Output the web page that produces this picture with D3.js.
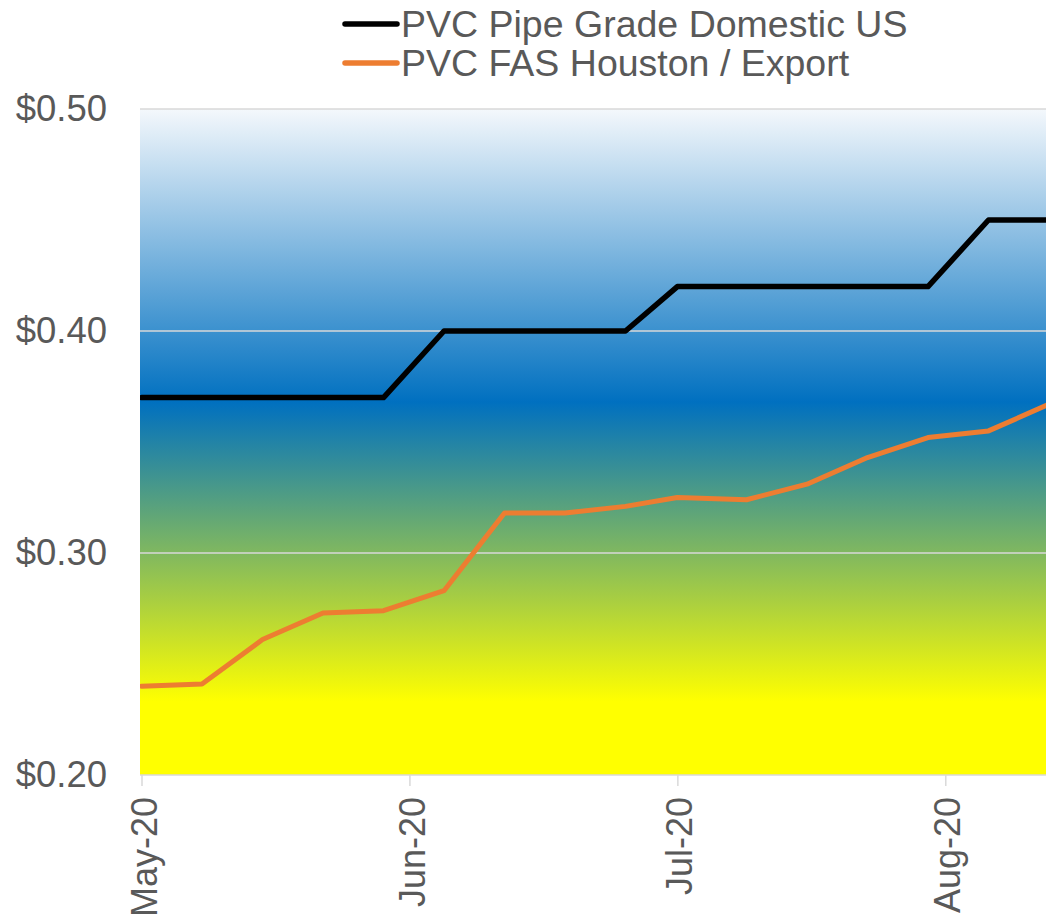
<!DOCTYPE html>
<html>
<head>
<meta charset="utf-8">
<script src="https://cdn.jsdelivr.net/npm/d3@7"></script>
<style>
  html, body { margin: 0; padding: 0; background: #ffffff; }
  svg { display: block; }
  text { font-family: "Liberation Sans", Arial, sans-serif; fill: #595959; }
</style>
</head>
<body>
<svg id="chart" width="1046" height="921"></svg>
<script>
// ---- data ----
const dates = ["2020-05-01","2020-05-08","2020-05-15","2020-05-22","2020-05-29",
               "2020-06-05","2020-06-12","2020-06-19","2020-06-26",
               "2020-07-02","2020-07-10","2020-07-17","2020-07-24","2020-07-31",
               "2020-08-07","2020-08-14"];
const pipeGrade = [0.37,0.37,0.37,0.37,0.37,0.40,0.40,0.40,0.40,0.42,0.42,0.42,0.42,0.42,0.45,0.45];
const fasHouston = [0.240,0.241,0.261,0.273,0.274,0.283,0.318,0.318,0.321,0.325,0.324,0.331,0.343,0.352,0.355,0.367];
const seriesNames = ["PVC Pipe Grade Domestic US","PVC FAS Houston / Export"];
const seriesColors = ["#000000","#ED7D31"];
const yTicks = [0.20,0.30,0.40,0.50];
const xTickDates = ["2020-05-01","2020-06-01","2020-07-02","2020-08-02"];
const xTickLabels = ["May-20","Jun-20","Jul-20","Aug-20"];

// ---- layout ----
const svg = d3.select("#chart");
const plot = {left: 140, top: 109, right: 1046, bottom: 775};
const parse = d3.utcParse("%Y-%m-%d");

const x = d3.scaleUtc()
  .domain([parse("2020-05-01"), parse("2020-08-14")])
  .range([141.5, 1049]);
const y = d3.scaleLinear().domain([0.20, 0.50]).range([plot.bottom, plot.top]);

// gradient background
const defs = svg.append("defs");
const grad = defs.append("linearGradient").attr("id","bg")
  .attr("x1",0).attr("y1",0).attr("x2",0).attr("y2",1);
[[0,"#f4f8fc"],[0.44,"#0070C0"],[0.89,"#FFFF00"],[1,"#FFFF00"]].forEach(([o,c]) =>
  grad.append("stop").attr("offset",o).attr("stop-color",c));

svg.append("rect")
  .attr("x", plot.left).attr("y", plot.top)
  .attr("width", plot.right - plot.left).attr("height", plot.bottom - plot.top)
  .attr("fill","url(#bg)");

// gridlines
svg.append("g").selectAll("line").data(yTicks.filter(d => d > 0.2)).join("line")
  .attr("x1", plot.left).attr("x2", plot.right)
  .attr("y1", d => y(d)).attr("y2", d => y(d))
  .attr("stroke", "#d9d9d9").attr("stroke-width", 1.5);

// y axis labels
const yAxis = d3.axisLeft(y).tickValues(yTicks).tickFormat(d => "$" + d.toFixed(2)).tickSize(0).tickPadding(0);
const yg = svg.append("g").attr("transform", `translate(${107},0)`).call(yAxis);
yg.select(".domain").remove();
yg.selectAll("text").attr("font-size", 36.5).attr("font-family", null).attr("fill", "#595959");

// x axis
const xAxis = d3.axisBottom(x).tickValues(xTickDates.map(parse))
  .tickFormat((d,i) => xTickLabels[i]).tickSize(11).tickSizeOuter(0);
const xg = svg.append("g").attr("transform", `translate(0,${plot.bottom})`).call(xAxis);
xg.select(".domain").attr("stroke","#d9d9d9").attr("stroke-width",1.5)
  .attr("d", `M${plot.left},0H${plot.right}`);
xg.selectAll(".tick line").attr("stroke","#d9d9d9").attr("stroke-width",1.5);
xg.selectAll(".tick text")
  .attr("font-size", 36).attr("font-family", null).attr("fill", "#595959")
  .attr("text-anchor","end")
  .attr("transform","rotate(-90)")
  .attr("x", -22).attr("y", 2).attr("dy", "0.35em");

// lines
const line = d3.line().x(d => x(d[0])).y(d => y(d[1]));
const allSeries = [pipeGrade, fasHouston];
svg.append("defs").append("clipPath").attr("id","clip").append("rect")
  .attr("x", plot.left).attr("y", 0).attr("width", plot.right - plot.left).attr("height", plot.bottom);
svg.append("g").attr("clip-path","url(#clip)").selectAll("path").data(allSeries).join("path")
  .attr("d", s => line(s.map((v,i) => [parse(dates[i]), v])))
  .attr("fill","none")
  .attr("stroke", (s,i) => seriesColors[i])
  .attr("stroke-width", (s,i) => i === 0 ? 5.5 : 5)
  .attr("stroke-linejoin","round").attr("stroke-linecap","round");

// legend
const lg = svg.append("g");
seriesNames.forEach((name, i) => {
  const ly = 24 + i * 39;
  lg.append("line").attr("x1", 345).attr("x2", 397).attr("y1", ly).attr("y2", ly)
    .attr("stroke", seriesColors[i]).attr("stroke-width", 5.5).attr("stroke-linecap","round");
  lg.append("text").attr("x", 401).attr("y", ly).attr("dy","0.35em")
    .attr("font-size", 37.5).text(name);
});
</script>
</body>
</html>
